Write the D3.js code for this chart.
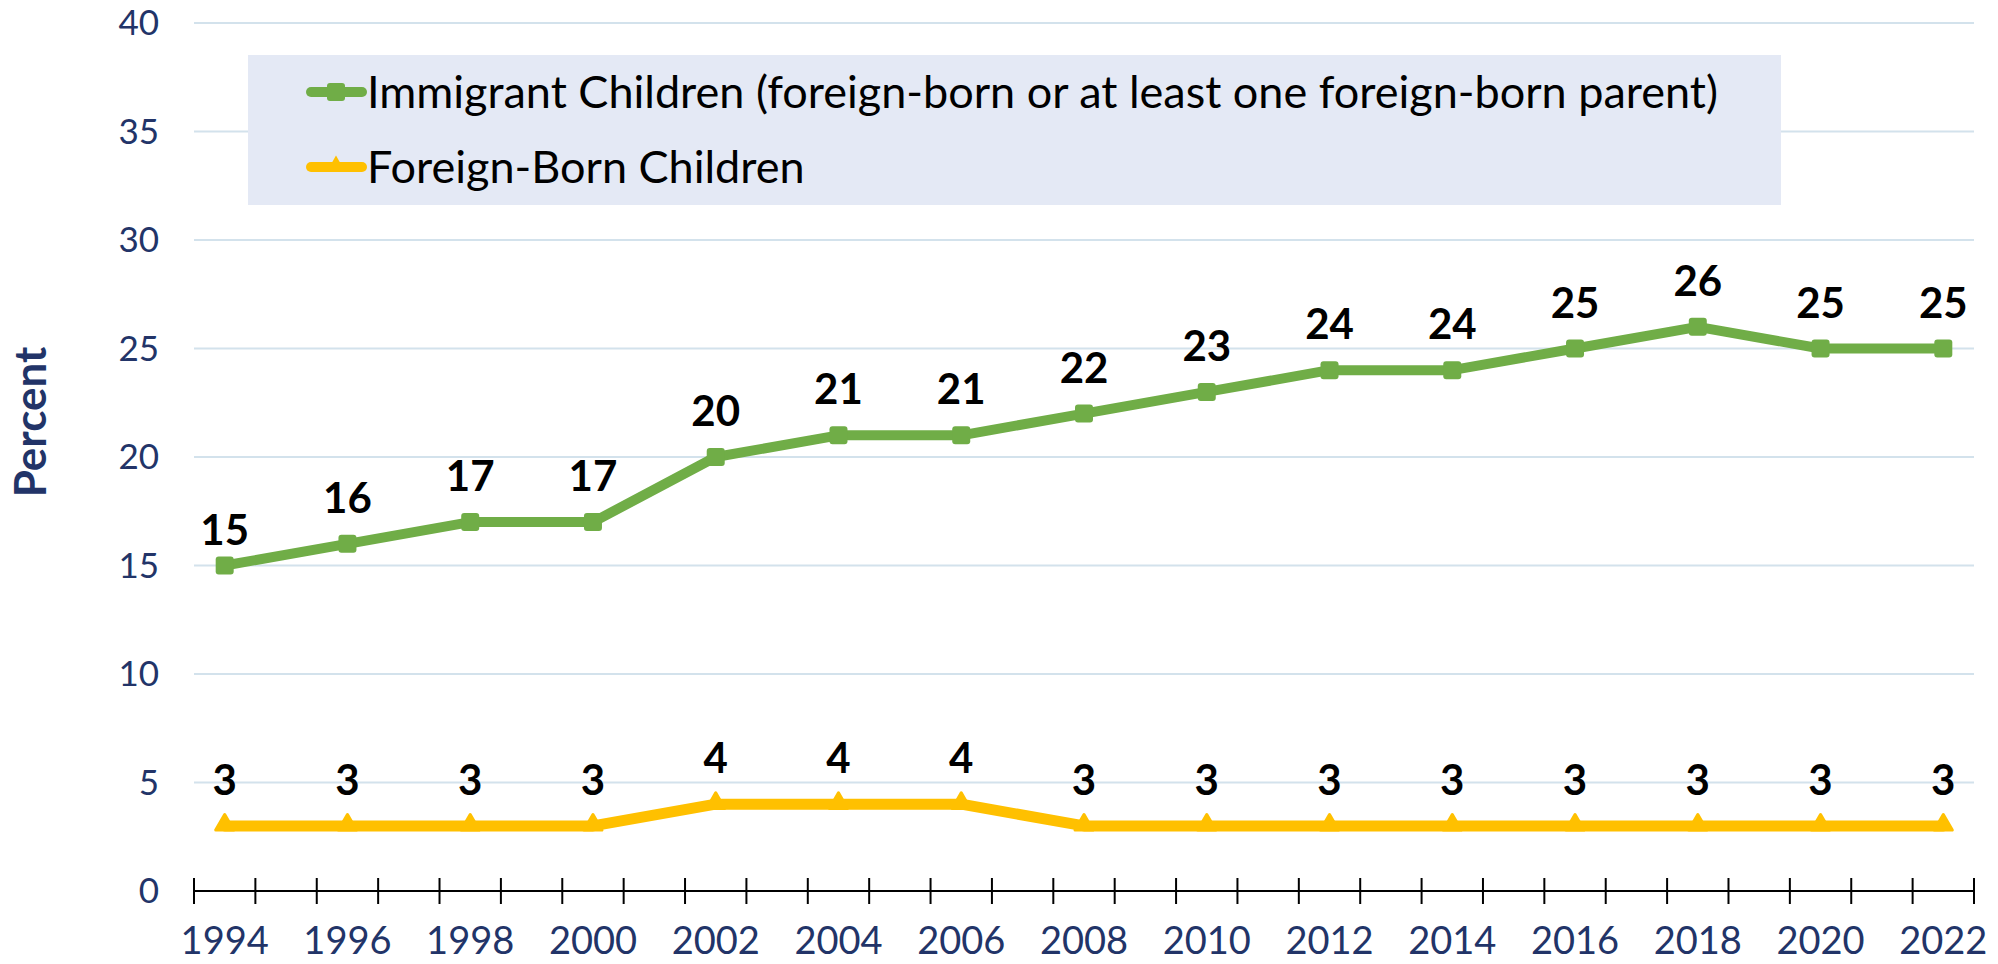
<!DOCTYPE html>
<html>
<head>
<meta charset="utf-8">
<script src="https://cdn.jsdelivr.net/npm/d3@7"></script>
<style>
  body { margin: 0; background: #fff; }
  svg { display: block; font-family: Lato, "Open Sans", sans-serif; }
</style>
</head>
<body>
<div id="chart"></div>
<script>
// years on the category axis (every year gets a slot, data every 2 years)
var allYears = d3.range(1994, 2023);
var years = [1994, 1996, 1998, 2000, 2002, 2004, 2006, 2008, 2010, 2012, 2014, 2016, 2018, 2020, 2022];
var immigrant = [15, 16, 17, 17, 20, 21, 21, 22, 23, 24, 24, 25, 26, 25, 25];
var foreignBorn = [3, 3, 3, 3, 4, 4, 4, 3, 3, 3, 3, 3, 3, 3, 3];
var yTicks = [0, 5, 10, 15, 20, 25, 30, 35, 40];
var seriesNames = ["Immigrant Children (foreign-born or at least one foreign-born parent)", "Foreign-Born Children"];

var W = 1998, H = 964;
var margin = {top: 23, right: 24, bottom: 73, left: 194};
var width = W - margin.left - margin.right,
    height = H - margin.top - margin.bottom;

var navy = "#223468";

var svg = d3.select("#chart").append("svg")
  .attr("width", W).attr("height", H);

var g = svg.append("g")
  .attr("transform", "translate(" + margin.left + "," + margin.top + ")");

var x = d3.scaleBand().domain(allYears).range([0, width]);
var y = d3.scaleLinear().domain([0, 40]).range([height, 0]);
function cx(yr) { return x(yr) + x.bandwidth() / 2; }

// gridlines
g.selectAll(".grid").data(yTicks.filter(function(d) { return d > 0; }))
  .enter().append("line")
  .attr("x1", 0).attr("x2", width)
  .attr("y1", function(d) { return y(d); })
  .attr("y2", function(d) { return y(d); })
  .attr("stroke", "#d3e2ec").attr("stroke-width", 2);

// y labels
g.selectAll(".ylab").data(yTicks).enter().append("text")
  .attr("x", -35).attr("y", function(d) { return y(d); })
  .attr("dy", "0.35em")
  .attr("text-anchor", "end")
  .attr("fill", navy)
  .style("font-size", "35px")
  .text(function(d) { return d; });

// x axis line + ticks at category boundaries
g.append("line")
  .attr("x1", 0).attr("x2", width)
  .attr("y1", height).attr("y2", height)
  .attr("stroke", "#000").attr("stroke-width", 2);
var bounds = allYears.map(function(d) { return x(d); }).concat([width]);
g.selectAll(".tick").data(bounds).enter().append("line")
  .attr("x1", function(d) { return d; }).attr("x2", function(d) { return d; })
  .attr("y1", height - 13).attr("y2", height + 13)
  .attr("stroke", "#000").attr("stroke-width", 2);

// x labels
g.selectAll(".xlab").data(years).enter().append("text")
  .attr("x", function(d) { return cx(d); })
  .attr("y", height + 63)
  .attr("text-anchor", "middle")
  .attr("fill", navy)
  .style("font-size", "38px")
  .text(function(d) { return d; });

// y title
svg.append("text")
  .attr("transform", "translate(46,422) rotate(-90)")
  .attr("text-anchor", "middle")
  .attr("fill", navy)
  .style("font-size", "44px").style("font-weight", "bold")
  .text("Percent");

var line = d3.line()
  .x(function(d) { return cx(d[0]); })
  .y(function(d) { return y(d[1]); });

var green = "#70ad47", gold = "#ffc000";
var immData = d3.zip(years, immigrant);
var fbData = d3.zip(years, foreignBorn);

g.append("path").datum(immData).attr("d", line)
  .attr("fill", "none").attr("stroke", green)
  .attr("stroke-width", 10).attr("stroke-linejoin", "round").attr("stroke-linecap", "round");
g.selectAll(".sq").data(immData).enter().append("rect")
  .attr("x", function(d) { return cx(d[0]) - 9; })
  .attr("y", function(d) { return y(d[1]) - 9; })
  .attr("width", 18).attr("height", 18).attr("rx", 3)
  .attr("fill", green);

g.append("path").datum(fbData).attr("d", line)
  .attr("fill", "none").attr("stroke", gold)
  .attr("stroke-width", 11).attr("stroke-linejoin", "round").attr("stroke-linecap", "round");
var tri = d3.symbol().type(d3.symbolTriangle).size(140);
g.selectAll(".tri").data(fbData).enter().append("path")
  .attr("transform", function(d) { return "translate(" + cx(d[0]) + "," + (y(d[1]) - 1) + ")"; })
  .attr("d", tri).attr("fill", gold)
  .attr("stroke", gold).attr("stroke-width", 3).attr("stroke-linejoin", "round");

// data labels (first green label sits a bit lower, as in the original)
function labels(data, first) {
  g.selectAll(null).data(data).enter().append("text")
    .attr("x", function(d) { return cx(d[0]); })
    .attr("y", function(d, i) { return y(d[1]) - (i == 0 ? first : 31); })
    .attr("text-anchor", "middle")
    .attr("fill", "#000")
    .style("font-size", "42px").style("font-weight", "bold")
    .text(function(d) { return d[1]; });
}
labels(immData, 21);
labels(fbData, 31);

// legend
var leg = svg.append("g");
leg.append("rect")
  .attr("x", 248).attr("y", 55).attr("width", 1533).attr("height", 150)
  .attr("fill", "#e4e9f5");
[green, gold].forEach(function(c, i) {
  var ly = 92 + i * 75;
  leg.append("line").attr("x1", 311).attr("x2", 362).attr("y1", ly).attr("y2", ly)
    .attr("stroke", c).attr("stroke-width", 10).attr("stroke-linecap", "round");
  if (i == 0) {
    leg.append("rect").attr("x", 327).attr("y", ly - 9).attr("width", 18).attr("height", 18).attr("rx", 3).attr("fill", c);
  } else {
    leg.append("path").attr("transform", "translate(336," + (ly - 1) + ")").attr("d", tri).attr("fill", c);
  }
  leg.append("text").attr("x", 367).attr("y", ly).attr("dy", "0.35em")
    .attr("fill", "#000").style("font-size", "45px")
    .text(seriesNames[i]);
});
</script>
</body>
</html>
